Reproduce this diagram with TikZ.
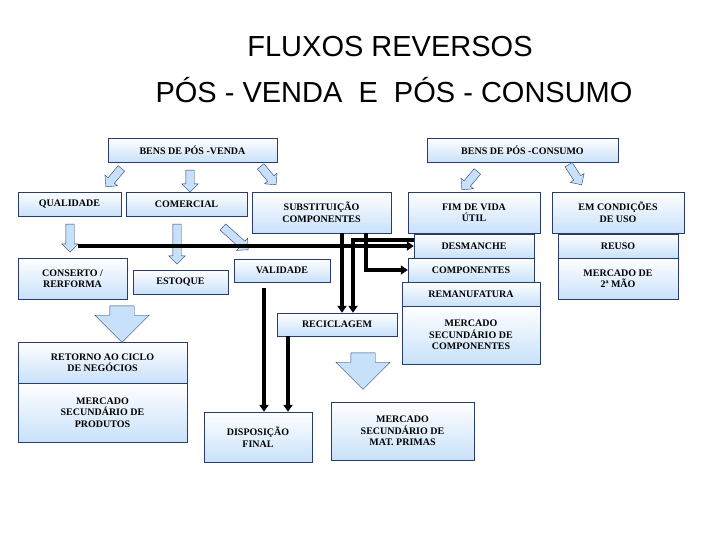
\documentclass[tikz,border=0pt]{standalone}
\usepackage{fontspec}
\setmainfont{Liberation Serif}
\newfontfamily\titlefont{Liberation Sans}
\usepackage{xcolor}
\definecolor{edge}{RGB}{40,60,110}
\definecolor{pale}{RGB}{200,225,250}
\usetikzlibrary{shapes.arrows,arrows.meta,positioning,calc}
\tikzset{
    box/.style={
        rectangle, draw=edge, thin, align=center, inner sep=0pt,
        top color=white, bottom color=pale,
        font=\fontsize{10}{11.5}\selectfont\bfseries,
    },
    barrow/.style={
        single arrow, draw=edge, thin, fill=pale, inner sep=4pt,
        single arrow head extend=4pt, minimum height=#1,
    },
    big/.style={barrow=#1, inner sep=12pt, single arrow head extend=15pt},
    flow/.style={line width=3.5pt, -{Triangle[length=7pt,width=9pt]}},
}
\begin{document}
\begin{tikzpicture}[x=1pt,y=-1pt]
    \useasboundingbox (0,0) rectangle (720,540);
    % title
    \node[font=\titlefont\fontsize{29}{32}\selectfont] (title1) at (390,47) {FLUXOS REVERSOS};
    \node[font=\titlefont\fontsize{29}{32}\selectfont] (title2) at (394,90) {PÓS - VENDA \ E \ PÓS - CONSUMO};

    % boxes
    \node[box, minimum width=169, minimum height=24] (venda) at (192.5,150) {BENS DE PÓS -VENDA};
    \node[box, minimum width=191, minimum height=24] (consumo) at (522.5,150) {BENS DE PÓS -CONSUMO};
    \node[box, minimum width=103, minimum height=24] (qual) at (69.5,204) {QUALIDADE};
    \node[box, minimum width=121, minimum height=24] (comer) at (186.5,204) {COMERCIAL};
    \node[box, minimum width=139, minimum height=41] (subst) at (321.5,212.5) {SUBSTITUIÇÃO\\COMPONENTES};
    \node[box, minimum width=132, minimum height=41] (fim) at (474,212.5) {FIM DE VIDA\\ÚTIL};
    \node[box, minimum width=132, minimum height=41] (cond) at (618,212.5) {EM CONDIÇÕES\\DE USO};
    \node[box, minimum width=120, minimum height=24] (desm) at (474,246) {DESMANCHE};
    \node[box, minimum width=126, minimum height=24] (comp) at (471,270) {COMPONENTES};
    \node[box, minimum width=138, minimum height=24] (reman) at (471,294) {REMANUFATURA};
    \node[box, minimum width=138, minimum height=58] (mscomp) at (471,335) {MERCADO\\SECUNDÁRIO DE\\COMPONENTES};
    \node[box, minimum width=120, minimum height=24] (reuso) at (618,246) {REUSO};
    \node[box, minimum width=120, minimum height=41] (segmao) at (618,278.5) {MERCADO DE\\2ª MÃO};
    \node[box, minimum width=109, minimum height=41] (conserto) at (72.5,278.5) {CONSERTO /\\RERFORMA};
    \node[box, minimum width=95, minimum height=24] (estoque) at (180.5,282) {ESTOQUE};
    \node[box, minimum width=96, minimum height=23] (valid) at (282,270.5) {VALIDADE};
    \node[box, minimum width=120, minimum height=23] (recic) at (337,324.5) {RECICLAGEM};
    \node[box, minimum width=169, minimum height=41] (retorno) at (102.5,362.5) {RETORNO AO CICLO\\DE NEGÓCIOS};
    \node[box, minimum width=169, minimum height=59] (msprod) at (102.5,412.5) {MERCADO\\SECUNDÁRIO DE\\PRODUTOS};
    \node[box, minimum width=108, minimum height=50] (disp) at (258,437) {DISPOSIÇÃO\\FINAL};
    \node[box, minimum width=143, minimum height=58] (msmat) at (402.5,431) {MERCADO\\SECUNDÁRIO DE\\MAT. PRIMAS};

    % block arrows
    \node[barrow=24, rotate=-130] (a1) at (115,176) {};
    \node[barrow=22, rotate=-90] (a2) at (190,179) {};
    \node[barrow=24, rotate=-50] (a3) at (267,174) {};
    \node[barrow=24, rotate=-130] (a4) at (471,179) {};
    \node[barrow=24, rotate=-57] (a5) at (574,173) {};
    \node[barrow=28, rotate=-90] (a6) at (70,236) {};
    \node[barrow=40, rotate=-90] (a7) at (177,242) {};
    \node[barrow=34, rotate=-42] (a8) at (234,237) {};
    \node[big=24, rotate=-90] (big1) at (122,318) {};
    \node[big=35, rotate=-90] (big2) at (363,365) {};

    % flows
    \coordinate (hstart) at (78,246);
    \draw[flow] (hstart) -- (desm.west);
    \draw[flow] ([xshift=20.5pt]subst.south) -- ([xshift=5pt]recic.north);
    \draw[flow] ([xshift=44.5pt]subst.south) |- (comp.west);
    \draw[flow] ([yshift=6pt]desm.west) -| ([xshift=16pt]recic.north);
    \draw[flow, shorten <=6pt] ([xshift=-18pt]valid.south) -- ([xshift=6pt]disp.north);
    \draw[flow] ([xshift=-49pt]recic.south) -- ([xshift=30pt]disp.north);
\end{tikzpicture}
\end{document}
